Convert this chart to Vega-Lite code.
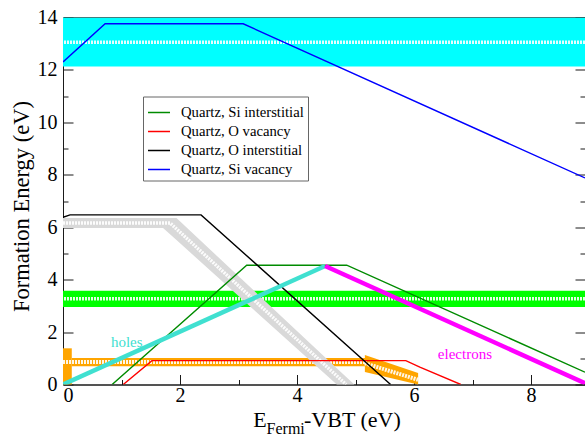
{
  "$schema": "https://vega.github.io/schema/vega-lite/v6.json",
  "width": 522,
  "height": 367,
  "autosize": {"type": "none"},
  "padding": {"left": 63, "top": 17.5, "right": 0, "bottom": 52.5},
  "background": "white",
  "config": {
    "font": "Liberation Serif",
    "view": {"stroke": "#1a1a1a", "strokeWidth": 1},
    "axis": {
      "domain": true,
      "domainColor": "#1a1a1a",
      "domainWidth": 1,
      "zindex": 1,
      "grid": false,
      "tickColor": "#1a1a1a",
      "tickWidth": 1,
      "labelFont": "Liberation Serif",
      "labelFontSize": 20,
      "labelColor": "#000000",
      "titleFont": "Liberation Serif",
      "titleFontSize": 22.5,
      "titleFontWeight": "normal",
      "titleColor": "#000000"
    },
    "legend": {
      "orient": "none",
      "legendX": 80,
      "legendY": 79,
      "title": null,
      "symbolType": "stroke",
      "symbolSize": 484,
      "symbolStrokeWidth": 1.5,
      "labelFont": "Liberation Serif",
      "labelFontSize": 14.7,
      "labelColor": "#000000",
      "strokeColor": "#666666",
      "fillColor": "white",
      "padding": 4,
      "rowPadding": -3.5,
      "labelOffset": 10
    }
  },
  "layer": [
    {
      "data": {"values": [{"lo": 12.13, "hi": 14.0}]},
      "mark": {"type": "rect", "color": "#00ffff", "clip": true},
      "encoding": {
        "y": {"field": "lo", "type": "quantitative", "scale": {"domain": [0, 14], "nice": false, "zero": false}, "axis": null},
        "y2": {"field": "hi"}
      }
    },
    {
      "data": {"values": [{"lo": 2.96, "hi": 3.58}]},
      "mark": {"type": "rect", "color": "#00ff00"},
      "encoding": {
        "y": {"field": "lo", "type": "quantitative", "axis": null},
        "y2": {"field": "hi"}
      }
    },
    {
      "data": {"values": [{"y": 13.06}, {"y": 3.27}]},
      "mark": {"type": "rule", "color": "#ffffff", "strokeWidth": 3.5, "strokeDash": [2, 1], "opacity": 0.9},
      "encoding": {
        "y": {"field": "y", "type": "quantitative", "axis": null}
      }
    },
    {
      "data": {"values": [
        {"x0": 0, "x1": 0.15, "y0": 0, "y1": 1.38},
        {"x0": 0.15, "x1": 5.19, "y0": 0.7, "y1": 1.01}
      ]},
      "mark": {"type": "rect", "color": "#ffa500"},
      "encoding": {
        "x": {"field": "x0", "type": "quantitative", "scale": {"domain": [0, 8.923], "nice": false, "zero": false}, "axis": null},
        "x2": {"field": "x1"},
        "y": {"field": "y0", "type": "quantitative", "axis": null},
        "y2": {"field": "y1"}
      }
    },
    {
      "data": {"values": [
        {"x": 5.16, "hi": 1.13, "lo": 0.48},
        {"x": 6.07, "hi": 0.44, "lo": 0.0}
      ]},
      "mark": {"type": "area", "color": "#ffa500", "opacity": 1},
      "encoding": {
        "x": {"field": "x", "type": "quantitative", "axis": null},
        "y": {"field": "hi", "type": "quantitative", "axis": null},
        "y2": {"field": "lo"}
      }
    },
    {
      "data": {"values": [
        {"seg": "oh", "x": 0, "y": 0.86},
        {"seg": "oh", "x": 5.19, "y": 0.86},
        {"seg": "od", "x": 5.16, "y": 0.81},
        {"seg": "od", "x": 6.07, "y": 0.18}
      ]},
      "mark": {"type": "line", "color": "#ffffff", "strokeWidth": 4, "strokeDash": [2, 1], "opacity": 0.9, "clip": true},
      "encoding": {
        "x": {"field": "x", "type": "quantitative", "axis": null},
        "y": {"field": "y", "type": "quantitative", "axis": null},
        "detail": {"field": "seg"}
      }
    },
    {
      "data": {"values": [
        {"x": 0, "hi": 6.35, "lo": 5.97},
        {"x": 1.71, "hi": 6.35, "lo": 5.97},
        {"x": 1.94, "hi": 6.35, "lo": 5.51},
        {"x": 4.68, "hi": 0.62, "lo": 0},
        {"x": 4.98, "hi": 0, "lo": 0}
      ]},
      "mark": {"type": "area", "color": "#d9d9d9", "opacity": 1},
      "encoding": {
        "x": {"field": "x", "type": "quantitative", "axis": null},
        "y": {"field": "hi", "type": "quantitative", "axis": null},
        "y2": {"field": "lo"}
      }
    },
    {
      "data": {"values": [
        {"x": 0, "y": 6.16},
        {"x": 1.83, "y": 6.16},
        {"x": 4.84, "y": 0}
      ]},
      "mark": {"type": "line", "color": "#ffffff", "strokeWidth": 3.5, "strokeDash": [2, 1], "opacity": 0.9, "clip": true},
      "encoding": {
        "x": {"field": "x", "type": "quantitative", "axis": null},
        "y": {"field": "y", "type": "quantitative", "axis": null}
      }
    },
    {
      "data": {"values": [
        {"defect": "Quartz, Si interstitial", "x": 0.84, "y": 0},
        {"defect": "Quartz, Si interstitial", "x": 3.14, "y": 4.55},
        {"defect": "Quartz, Si interstitial", "x": 4.85, "y": 4.55},
        {"defect": "Quartz, Si interstitial", "x": 8.923, "y": 0.47},
        {"defect": "Quartz, O vacancy", "x": 1.03, "y": 0},
        {"defect": "Quartz, O vacancy", "x": 1.52, "y": 0.91},
        {"defect": "Quartz, O vacancy", "x": 5.86, "y": 0.91},
        {"defect": "Quartz, O vacancy", "x": 6.1, "y": 0.66},
        {"defect": "Quartz, O vacancy", "x": 6.8, "y": 0},
        {"defect": "Quartz, O interstitial", "x": 0, "y": 6.38},
        {"defect": "Quartz, O interstitial", "x": 0.12, "y": 6.47},
        {"defect": "Quartz, O interstitial", "x": 2.36, "y": 6.47},
        {"defect": "Quartz, O interstitial", "x": 5.6, "y": 0},
        {"defect": "Quartz, Si vacancy", "x": 0, "y": 12.3},
        {"defect": "Quartz, Si vacancy", "x": 0.72, "y": 13.76},
        {"defect": "Quartz, Si vacancy", "x": 3.08, "y": 13.76},
        {"defect": "Quartz, Si vacancy", "x": 8.923, "y": 7.88}
      ]},
      "mark": {"type": "line", "strokeWidth": 1.4, "clip": true},
      "encoding": {
        "x": {
          "field": "x", "type": "quantitative",
          "axis": {
            "orient": "bottom",
            "title": null,
            "values": [0, 1, 2, 3, 4, 5, 6, 7, 8],
            "labelExpr": "datum.value % 2 === 0 ? datum.label : ''",
            "labelFont": "Liberation Serif",
            "tickSize": {"condition": {"test": "datum.value % 2 === 0", "value": -10}, "value": -5},
            "labelPadding": 11
          }
        },
        "y": {
          "field": "y", "type": "quantitative",
          "axis": {
            "orient": "left",
            "title": "Formation Energy (eV)",
            "titleFont": "Liberation Serif",
            "titleFontSize": 22.5,
            "titleFontWeight": "normal",
            "titleY": 188.5,
            "labelFont": "Liberation Serif",
            "values": [0, 1, 2, 3, 4, 5, 6, 7, 8, 9, 10, 11, 12, 13, 14],
            "labelExpr": "datum.value % 2 === 0 ? datum.label : ''",
            "tickSize": {"condition": {"test": "datum.value % 2 === 0", "value": -10}, "value": -5},
            "labelPadding": 16,
            "titlePadding": 4
          }
        },
        "color": {
          "field": "defect", "type": "nominal",
          "scale": {
            "domain": ["Quartz, Si interstitial", "Quartz, O vacancy", "Quartz, O interstitial", "Quartz, Si vacancy"],
            "range": ["#008b00", "#ff0000", "#000000", "#0000ff"]
          }
        },
        "detail": {"field": "defect"}
      }
    },
    {
      "data": {"values": [{"x": 0, "y": 0}, {"x": 4.48, "y": 4.52}]},
      "mark": {"type": "line", "color": "#40e0d0", "strokeWidth": 4.5, "clip": true},
      "encoding": {
        "x": {
          "field": "x", "type": "quantitative",
          "axis": {
            "orient": "top", "title": null, "labels": false,
            "values": [0, 1, 2, 3, 4, 5, 6, 7, 8],
            "tickSize": {"condition": {"test": "datum.value % 2 === 0", "value": -10}, "value": -5}
          }
        },
        "y": {
          "field": "y", "type": "quantitative",
          "axis": {
            "orient": "right", "title": null, "labels": false,
            "values": [0, 1, 2, 3, 4, 5, 6, 7, 8, 9, 10, 11, 12, 13, 14],
            "tickSize": {"condition": {"test": "datum.value % 2 === 0", "value": -10}, "value": -5}
          }
        }
      }
    },
    {
      "data": {"values": [{"x": 4.48, "y": 4.52}, {"x": 8.923, "y": 0.05}]},
      "mark": {"type": "line", "color": "#ff00ff", "strokeWidth": 4.5, "clip": true},
      "encoding": {
        "x": {"field": "x", "type": "quantitative", "axis": null},
        "y": {"field": "y", "type": "quantitative", "axis": null}
      }
    },
    {
      "data": {"values": [{}]},
      "mark": {"type": "text", "font": "Liberation Serif", "color": "#40e0d0", "fontSize": 15, "align": "center", "baseline": "middle"},
      "encoding": {
        "x": {"datum": 1.09, "type": "quantitative", "axis": null},
        "y": {"datum": 1.64, "type": "quantitative", "axis": null},
        "text": {"value": "holes"}
      }
    },
    {
      "data": {"values": [{}]},
      "mark": {"type": "text", "font": "Liberation Serif", "color": "#ff00ff", "fontSize": 15, "align": "center", "baseline": "middle"},
      "encoding": {
        "x": {"datum": 6.87, "type": "quantitative", "axis": null},
        "y": {"datum": 1.16, "type": "quantitative", "axis": null},
        "text": {"value": "electrons"}
      }
    },
    {
      "data": {"values": [{}]},
      "mark": {"type": "text", "font": "Liberation Serif", "color": "#000000", "fontSize": 22, "align": "left", "baseline": "alphabetic"},
      "encoding": {
        "x": {"datum": 3.25, "type": "quantitative", "axis": null},
        "y": {"datum": -1.62, "type": "quantitative", "axis": null},
        "text": {"value": "E"}
      }
    },
    {
      "data": {"values": [{}]},
      "mark": {"type": "text", "font": "Liberation Serif", "color": "#000000", "fontSize": 16, "align": "left", "baseline": "alphabetic"},
      "encoding": {
        "x": {"datum": 3.48, "type": "quantitative", "axis": null},
        "y": {"datum": -1.88, "type": "quantitative", "axis": null},
        "text": {"value": "Fermi"}
      }
    },
    {
      "data": {"values": [{}]},
      "mark": {"type": "text", "font": "Liberation Serif", "color": "#000000", "fontSize": 22, "align": "left", "baseline": "alphabetic"},
      "encoding": {
        "x": {"datum": 4.12, "type": "quantitative", "axis": null},
        "y": {"datum": -1.62, "type": "quantitative", "axis": null},
        "text": {"value": "-VBT (eV)"}
      }
    }
  ]
}
